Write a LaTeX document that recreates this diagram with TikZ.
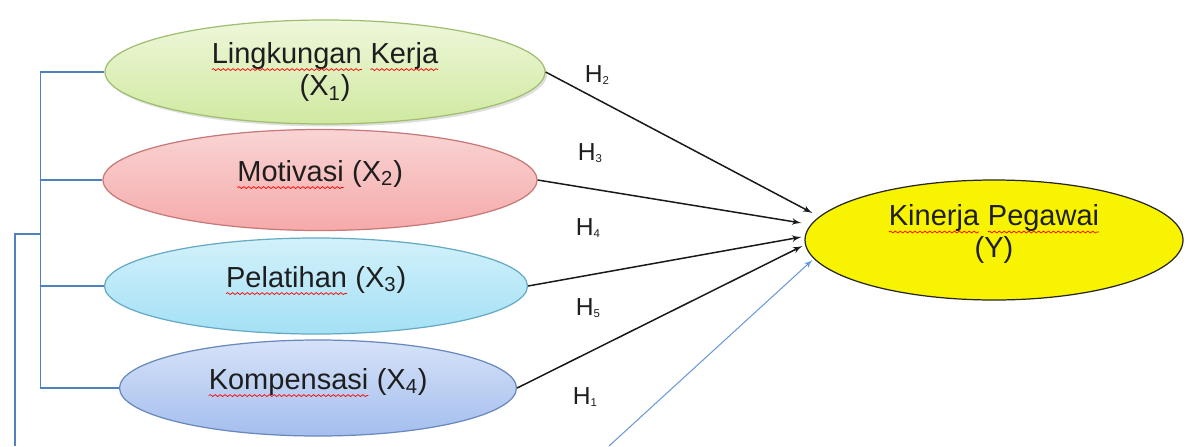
\documentclass[tikz,border=0pt]{standalone}
\usepackage{fontspec}
\setmainfont{Liberation Sans}
\usetikzlibrary{positioning,shapes.geometric}
\usetikzlibrary{shapes,arrows,calc,decorations.pathmorphing,shadows}
\newcommand{\redwave}[1]{\tikz[baseline=(w.base)]{\node[shape=rectangle, minimum width=0pt, minimum height=0pt,
    text depth=, text height=, inner sep=0pt, outer sep=0pt] (w) {#1};
    \draw[red, line width=0.4pt, decorate, decoration={snake, amplitude=0.55pt, segment length=2.8pt}]
    ([yshift=-3.6pt]w.base west) -- ([yshift=-3.6pt]w.base east);}}
\newcommand{\hsub}[1]{\raisebox{-0.05em}{\fontsize{6.5}{6.5}\selectfont #1}}
\definecolor{brackblue}{HTML}{4F81BD}
\definecolor{arrowblue}{HTML}{6A9AD8}
\definecolor{textgray}{HTML}{1E1E1E}
\tikzstyle{var} = [ellipse, draw, align=center, text depth=0.37cm,
    text=textgray, font=\fontsize{16.5}{18.5}\selectfont, line width=0.7pt]
\tikzstyle{target} = [ellipse, draw=black!85, fill={rgb,255:red,248;green,243;blue,0},
    align=center, text depth=0.36cm, text=textgray, line width=0.7pt,
    font=\fontsize{16.5}{18}\selectfont, minimum width=7.56cm, minimum height=2.4cm]
\tikzstyle{line} = [draw, -latex', line width=0.85pt, black!90]
\tikzstyle{bracket} = [draw=brackblue, line width=1pt]
\tikzstyle{hyp} = [font=\fontsize{14}{16}\selectfont, text=textgray, inner sep=0pt]

\begin{document}
\begin{tikzpicture}[node distance=2.14cm, auto]
    \useasboundingbox (0,0) rectangle (23.74,-8.92);
    % Place nodes
    \node [var, draw={rgb,255:red,160;green,190;blue,112},
        top color={rgb,255:red,238;green,247;blue,218}, bottom color={rgb,255:red,208;green,233;blue,160},
        drop shadow={shadow xshift=0.04cm, shadow yshift=-0.05cm, opacity=0.25},
        minimum width=8.8cm, minimum height=2.08cm, text depth=0.12cm] (E1) at (6.50,-1.44)
        {\redwave{Lingkungan} \redwave{Kerja}\\(X\textsubscript{1})};
    \node [var, draw={rgb,255:red,200;green,120;blue,120},
        top color={rgb,255:red,249;green,212;blue,212}, bottom color={rgb,255:red,246;green,170;blue,170},
        minimum width=8.68cm, minimum height=2.02cm, below of=E1, node distance=2.16cm, xshift=-0.1cm] (E2)
        {\redwave{Motivasi} (X\textsubscript{2})};
    \node [var, draw={rgb,255:red,100;green,170;blue,196},
        top color={rgb,255:red,210;green,241;blue,251}, bottom color={rgb,255:red,164;green,224;blue,245},
        minimum width=8.46cm, minimum height=1.92cm, below of=E2, node distance=2.12cm, xshift=-0.08cm] (E3)
        {\redwave{Pelatihan} (X\textsubscript{3})};
    \node [var, draw={rgb,255:red,104;green,136;blue,190},
        top color={rgb,255:red,214;green,226;blue,248}, bottom color={rgb,255:red,164;green,190;blue,238},
        minimum width=7.94cm, minimum height=1.92cm, below of=E3, node distance=2.04cm, xshift=0.04cm] (E4)
        {\redwave{Kompensasi} (X\textsubscript{4})};
    \node [target, right of=E2, node distance=13.48cm, yshift=-1.2cm] (Y)
        {\redwave{Kinerja} \redwave{Pegawai}\\(Y)};
    % hypothesis labels
    \node [hyp] (h2) at (11.94,-1.50) {H\hsub{2}};
    \node [hyp] (h3) at (11.80,-3.06) {H\hsub{3}};
    \node [hyp] (h4) at (11.76,-4.56) {H\hsub{4}};
    \node [hyp] (h5) at (11.76,-6.16) {H\hsub{5}};
    \node [hyp] (h1) at (11.70,-7.94) {H\hsub{1}};
    % Draw edges
    \path [line] (E1.east) -- ([xshift=0.16cm,yshift=0.54cm]Y.west);
    \path [line] (E2.east) -- ([xshift=-0.06cm,yshift=0.34cm]Y.west);
    \path [line] (E3.east) -- ([xshift=-0.06cm,yshift=0.06cm]Y.west);
    \path [line] (E4.east) -- ([xshift=-0.04cm,yshift=-0.12cm]Y.west);
    % simultaneous path, cut off at the bottom
    \coordinate (cut) at (12.18,-8.92);
    \path [draw=arrowblue, -latex', line width=0.6pt] (cut) -- ([xshift=0.16cm,yshift=-0.4cm]Y.west);
    % left bracket
    \path [bracket] (E1.west) -- ++(-1.28,0) coordinate (s1) |- (E4.west);
    \path [bracket] (E2.west) -- (E2.west -| s1);
    \path [bracket] (E3.west) -- (E3.west -| s1);
    \coordinate (bot) at (0.30,-8.92);
    \path [bracket] (s1 |- 0,-4.68) -| (bot);
\end{tikzpicture}
\end{document}
